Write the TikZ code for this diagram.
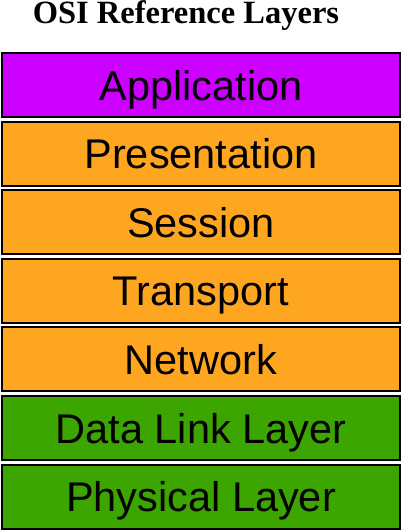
\documentclass[tikz,border=0pt]{standalone}
\usepackage{fontspec}
\setmainfont{Liberation Serif}
\newfontfamily\arialfont{Liberation Sans}
\definecolor{appcol}{RGB}{204,0,255}
\definecolor{midcol}{RGB}{255,166,33}
\definecolor{lowcol}{RGB}{61,165,0}
\begin{document}
\begin{tikzpicture}[x=1pt,y=-1pt,
  layer/.style={draw=black, line width=2pt, minimum width=398pt, minimum height=64pt,
    inner sep=0pt, text height=30pt, text depth=0pt,
    font=\arialfont\fontsize{41.5}{42}\selectfont}]
\useasboundingbox (0,0) rectangle (402,531);
\node[anchor=base, inner sep=0pt, text height=20pt, text depth=0pt,
  font=\bfseries\fontsize{32.5}{33}\selectfont] (title) at (186,23.3) {OSI Reference Layers};
\node[layer, fill=appcol] (app) at (201,85) {Application};
\node[layer, fill=midcol] (pres) at (201,153.6) {Presentation};
\node[layer, fill=midcol] (sess) at (201,222.2) {Session};
\node[layer, fill=midcol] (trans) at (201,290.8) {Transport};
\node[layer, fill=midcol] (net) at (201,359.4) {Network};
\node[layer, fill=lowcol] (dl) at (201,428) {Data Link Layer};
\node[layer, fill=lowcol] (phys) at (201,496.6) {Physical Layer};
\end{tikzpicture}
\end{document}
